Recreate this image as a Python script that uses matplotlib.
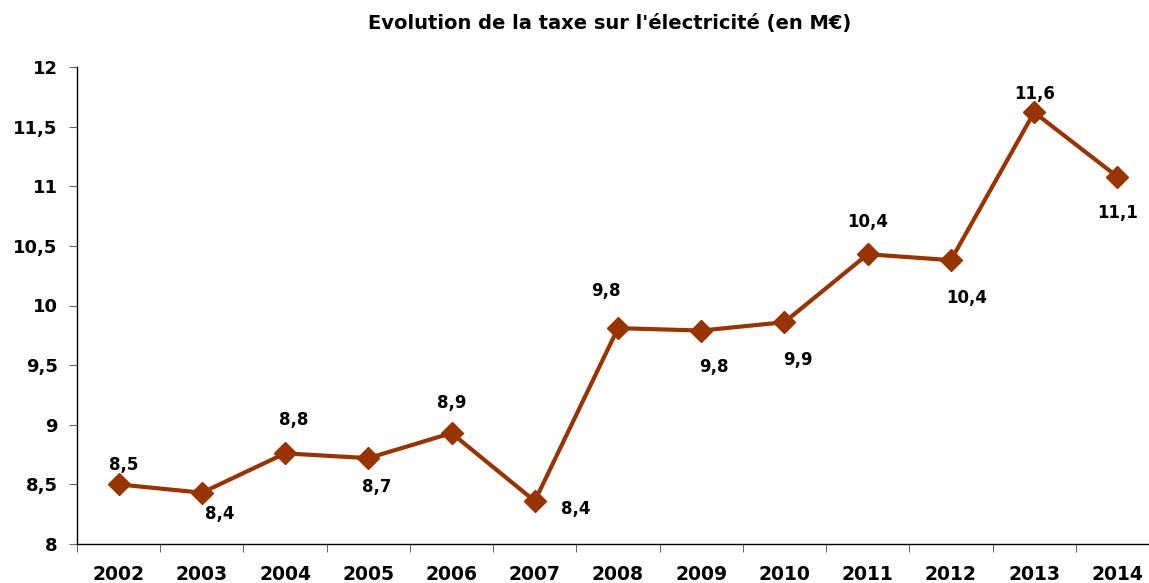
import numpy as np
import matplotlib
matplotlib.use("Agg")
import matplotlib.pyplot as plt

# Evolution de la taxe sur l'électricité (en M€)
years = ['2002', '2003', '2004', '2005', '2006', '2007', '2008',
         '2009', '2010', '2011', '2012', '2013', '2014']
tax = [8.50, 8.43, 8.76, 8.72, 8.93, 8.36, 9.81,
       9.79, 9.86, 10.43, 10.38, 11.62, 11.08]
y_ticks = [8, 8.5, 9, 9.5, 10, 10.5, 11, 11.5, 12]

# label offsets in pixels (dx, dy), dy positive = up
label_off = [(5, 19), (18, -21), (9, 33), (8, -29), (0, 30), (41, -8), (-12, 37),
             (13, -36), (13, -38), (0, 32), (16, -38), (0, 18), (0, -36)]

color = '#993300'
plt.rcParams['font.family'] = ['DejaVu Sans']

fig = plt.figure(figsize=(11.49, 5.83), dpi=100)
ax = fig.add_axes([77 / 1149, 39 / 583, 1082 / 1149, 477 / 583])

x = np.arange(len(years))
ax.plot(x, tax, color=color, linewidth=3, marker='D', markersize=11,
        markeredgecolor=color, markerfacecolor=color, clip_on=False)

px = 0.72
for xi, v, (dx, dy) in zip(x, tax, label_off):
    ax.annotate(f'{v:.1f}'.replace('.', ','), (xi, v),
                xytext=(dx * px, dy * px), textcoords='offset points',
                ha='center', va='center', fontsize=12, fontweight='bold')

ax.set_xlim(-0.5, len(years) - 0.5)
ax.set_ylim(8, 12)
ax.set_yticks(y_ticks)
ax.set_yticklabels([f'{t:g}'.replace('.', ',') for t in y_ticks],
                   fontsize=13, fontweight='bold')
ax.set_xticks(x)
ax.set_xticklabels(years, fontsize=13.5, fontweight='bold')
ax.set_xticks(np.arange(-0.5, len(years)), minor=True)
ax.tick_params(axis='x', which='major', length=0, pad=15)
ax.tick_params(axis='x', which='minor', length=6, direction='out', color='#444444')
ax.tick_params(axis='y', length=6, direction='out', color='#666666', pad=8)

ax.spines['top'].set_visible(False)
ax.spines['right'].set_visible(False)
ax.spines['left'].set_linewidth(1.0)
ax.spines['bottom'].set_linewidth(1.0)

fig.text(0.531, 0.959, "Evolution de la taxe sur l'électricité (en M€)",
         ha='center', va='center', fontsize=14, fontweight='bold')

fig.savefig('out.png', dpi=100)
